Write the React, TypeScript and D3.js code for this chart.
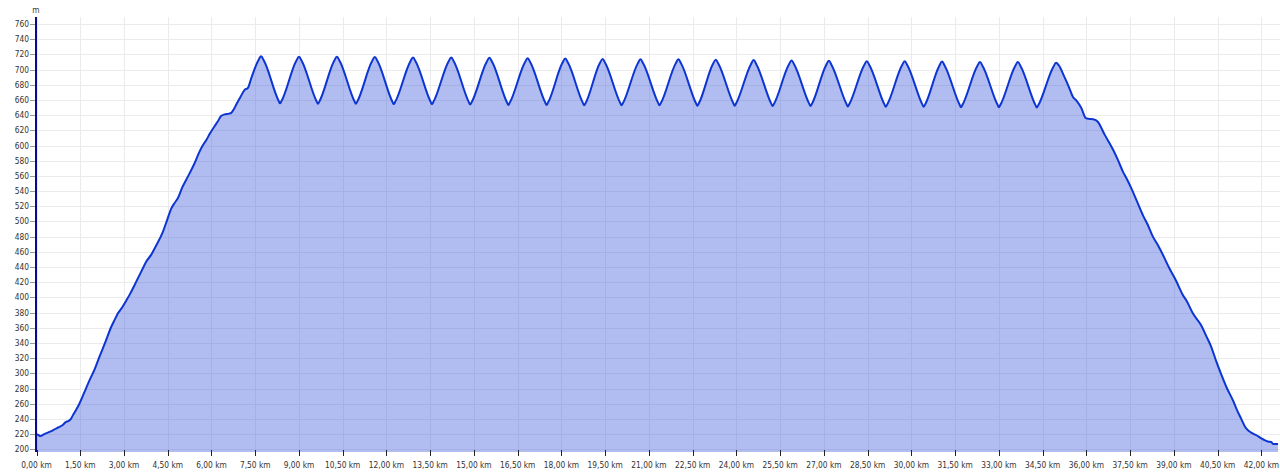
import React from 'react';
import * as d3 from 'd3';

type Pt = [number, number];

// distance (km), elevation (m)
const climb: Pt[] = [
  [0.00, 220], [0.06, 219], [0.13, 217.5], [0.27, 220], [0.42, 222.5], [0.56, 225], [0.70, 228],
  [0.79, 229.5], [0.90, 232], [0.99, 235.5], [1.11, 237.5], [1.18, 240], [1.25, 245], [1.36, 252],
  [1.47, 260], [1.65, 276], [1.82, 291], [2.00, 306], [2.16, 322], [2.36, 341], [2.56, 361],
  [2.70, 372], [2.79, 379], [2.94, 387], [3.08, 396], [3.20, 404], [3.36, 416], [3.50, 427],
  [3.63, 437], [3.76, 447], [3.93, 456], [4.10, 468], [4.33, 486], [4.48, 502], [4.62, 517],
  [4.73, 524], [4.85, 531], [5.00, 545], [5.19, 559], [5.40, 575], [5.59, 592], [5.70, 600],
  [5.82, 607], [5.95, 616], [6.10, 625], [6.22, 632], [6.33, 639], [6.45, 641], [6.60, 642],
  [6.68, 643], [6.77, 648], [6.85, 654], [6.98, 663], [7.13, 673], [7.25, 676], [7.36, 688],
  [7.48, 701], [7.60, 711.5],
];

const laps: Pt[] = [
  [7.70, 717.5], [7.80, 711.5],
  [8.30, 659], [8.35, 655.5], [8.40, 658.5],
  [8.90, 711], [9.00, 717], [9.10, 711],
  [9.60, 658.5], [9.65, 655], [9.70, 658],
  [10.20, 711], [10.30, 717], [10.40, 711],
  [10.90, 658.5], [10.95, 655], [11.00, 658],
  [11.50, 710.5], [11.60, 716.5], [11.70, 710.5],
  [12.20, 658], [12.25, 654.5], [12.30, 657.5],
  [12.81, 710], [12.91, 716], [13.01, 710],
  [13.51, 658], [13.56, 654.5], [13.61, 657.5],
  [14.12, 710], [14.22, 716], [14.32, 710],
  [14.82, 657.5], [14.87, 654], [14.92, 657],
  [15.43, 709.5], [15.53, 715.5], [15.63, 709.5],
  [16.13, 657], [16.18, 653.5], [16.23, 656.5],
  [16.74, 709], [16.84, 715], [16.94, 709],
  [17.44, 657], [17.49, 653.5], [17.54, 656.5],
  [18.03, 708.5], [18.13, 714.5], [18.23, 708.5],
  [18.73, 656.5], [18.78, 653], [18.83, 656],
  [19.31, 708], [19.41, 714], [19.51, 708],
  [20.01, 656.5], [20.06, 653], [20.11, 656],
  [20.61, 707.5], [20.71, 713.5], [20.81, 707.5],
  [21.31, 656.5], [21.36, 653], [21.41, 656],
  [21.91, 707.5], [22.01, 713.5], [22.11, 707.5],
  [22.61, 656], [22.66, 652.5], [22.71, 655.5],
  [23.19, 707], [23.29, 713], [23.39, 707],
  [23.89, 656], [23.94, 652.5], [23.99, 655.5],
  [24.49, 706.5], [24.59, 712.5], [24.69, 706.5],
  [25.19, 655.5], [25.24, 652], [25.29, 655],
  [25.79, 706], [25.89, 712], [25.99, 706],
  [26.49, 655.5], [26.54, 652], [26.59, 655],
  [27.07, 705.5], [27.17, 711.5], [27.27, 705.5],
  [27.77, 655], [27.82, 651.5], [27.87, 654.5],
  [28.37, 705], [28.47, 711], [28.57, 705],
  [29.07, 654.5], [29.12, 651], [29.17, 654],
  [29.67, 705], [29.77, 711], [29.87, 705],
  [30.37, 654.5], [30.42, 651], [30.47, 654],
  [30.95, 704.5], [31.05, 710.5], [31.15, 704.5],
  [31.65, 654], [31.70, 650.5], [31.75, 653.5],
  [32.25, 704], [32.35, 710], [32.45, 704],
  [32.95, 654], [33.00, 650.5], [33.05, 653.5],
  [33.55, 704], [33.65, 710], [33.75, 704],
  [34.25, 653.5], [34.30, 650], [34.35, 653],
  [34.86, 703], [34.96, 709],
];

const descent: Pt[] = [
  [35.05, 706], [35.25, 690], [35.40, 677], [35.54, 664], [35.66, 659], [35.83, 649], [35.98, 636],
  [36.10, 635], [36.23, 634.5], [36.40, 631], [36.50, 624], [36.63, 614], [36.78, 604], [36.92, 594],
  [37.08, 581], [37.26, 565], [37.40, 555], [37.55, 543], [37.75, 525], [37.94, 508], [38.10, 496],
  [38.28, 480], [38.45, 469], [38.65, 454], [38.85, 438], [39.05, 424], [39.31, 403], [39.43, 396],
  [39.65, 379], [39.94, 363], [40.10, 350], [40.28, 335], [40.46, 315], [40.62, 299], [40.80, 282],
  [41.03, 264], [41.15, 253], [41.31, 240], [41.45, 229], [41.54, 225], [41.70, 221], [41.83, 218.5],
  [41.97, 215], [42.11, 212], [42.25, 210], [42.34, 209.5], [42.40, 207], [42.57, 207],
];

const xTicks = [0, 1.5, 3, 4.5, 6, 7.5, 9, 10.5, 12, 13.5, 15, 16.5, 18, 19.5, 21, 22.5, 24, 25.5,
  27, 28.5, 30, 31.5, 33, 34.5, 36, 37.5, 39, 40.5, 42];
const yTicks = [200, 220, 240, 260, 280, 300, 320, 340, 360, 380, 400, 420, 440, 460, 480, 500,
  520, 540, 560, 580, 600, 620, 640, 660, 680, 700, 720, 740, 760];

const FONT = '"DejaVu Sans Condensed", "DejaVu Sans", sans-serif';

export default function App() {
  const W = 1280, H = 472;
  const plotBottom = 452;
  const plotTop = 17;
  const x = d3.scaleLinear().domain([0, 42.57]).range([36.5, 1278]);
  const y = d3.scaleLinear().domain([200, 760]).range([449.3, 24]);
  const data: Pt[] = [...climb, ...laps, ...descent];

  const line = d3.line<Pt>().x(d => x(d[0])).y(d => y(d[1])).curve(d3.curveMonotoneX);
  const area = d3.area<Pt>().x(d => x(d[0])).y0(plotBottom).y1(d => y(d[1])).curve(d3.curveMonotoneX);
  const fmt = (v: number) => v.toFixed(2).replace('.', ',') + ' km';

  return (
    <svg width={W} height={H} style={{ position: 'absolute', left: 0, top: 0, background: '#fff' }}>
      {/* grid */}
      {yTicks.map(t => (
        <line key={'hy' + t} x1={37} x2={W} y1={Math.round(y(t)) + 0.5} y2={Math.round(y(t)) + 0.5}
          stroke="#ebebeb" strokeWidth={1} />
      ))}
      {xTicks.map(t => (
        <line key={'vx' + t} x1={Math.round(x(t)) + 0.5} x2={Math.round(x(t)) + 0.5} y1={plotTop} y2={plotBottom}
          stroke="#ebebeb" strokeWidth={1} />
      ))}
      {/* area */}
      <path d={area(data) || ''} fill="rgb(60,90,220)" fillOpacity={0.4} />
      <path d={line(data) || ''} fill="none" stroke="#0d35d2" strokeWidth={2} strokeLinejoin="round" />
      {/* y axis */}
      <line x1={36} x2={36} y1={plotTop} y2={plotBottom} stroke="#0a0a8c" strokeWidth={2} />
      {yTicks.map(t => (
        <g key={'yt' + t}>
          <line x1={30} x2={35} y1={Math.round(y(t)) + 0.5} y2={Math.round(y(t)) + 0.5} stroke="#9a9a9a" strokeWidth={1} />
          <text x={29} y={y(t)} textAnchor="end" dominantBaseline="central" fontFamily={FONT} fontSize={8.3}
            fill="#333">{t}</text>
        </g>
      ))}
      <text x={36} y={10} textAnchor="middle" dominantBaseline="central" fontFamily={FONT} fontSize={8.3} fill="#333">m</text>
      {/* x axis */}
      {xTicks.map(t => (
        <g key={'xt' + t}>
          <line x1={Math.round(x(t)) + 0.5} x2={Math.round(x(t)) + 0.5} y1={450} y2={456} stroke="#222" strokeWidth={1} />
          <text x={x(t)} y={465} textAnchor="middle" dominantBaseline="central" fontFamily={FONT} fontSize={8.3}
            fill="#333">{fmt(t)}</text>
        </g>
      ))}
    </svg>
  );
}
